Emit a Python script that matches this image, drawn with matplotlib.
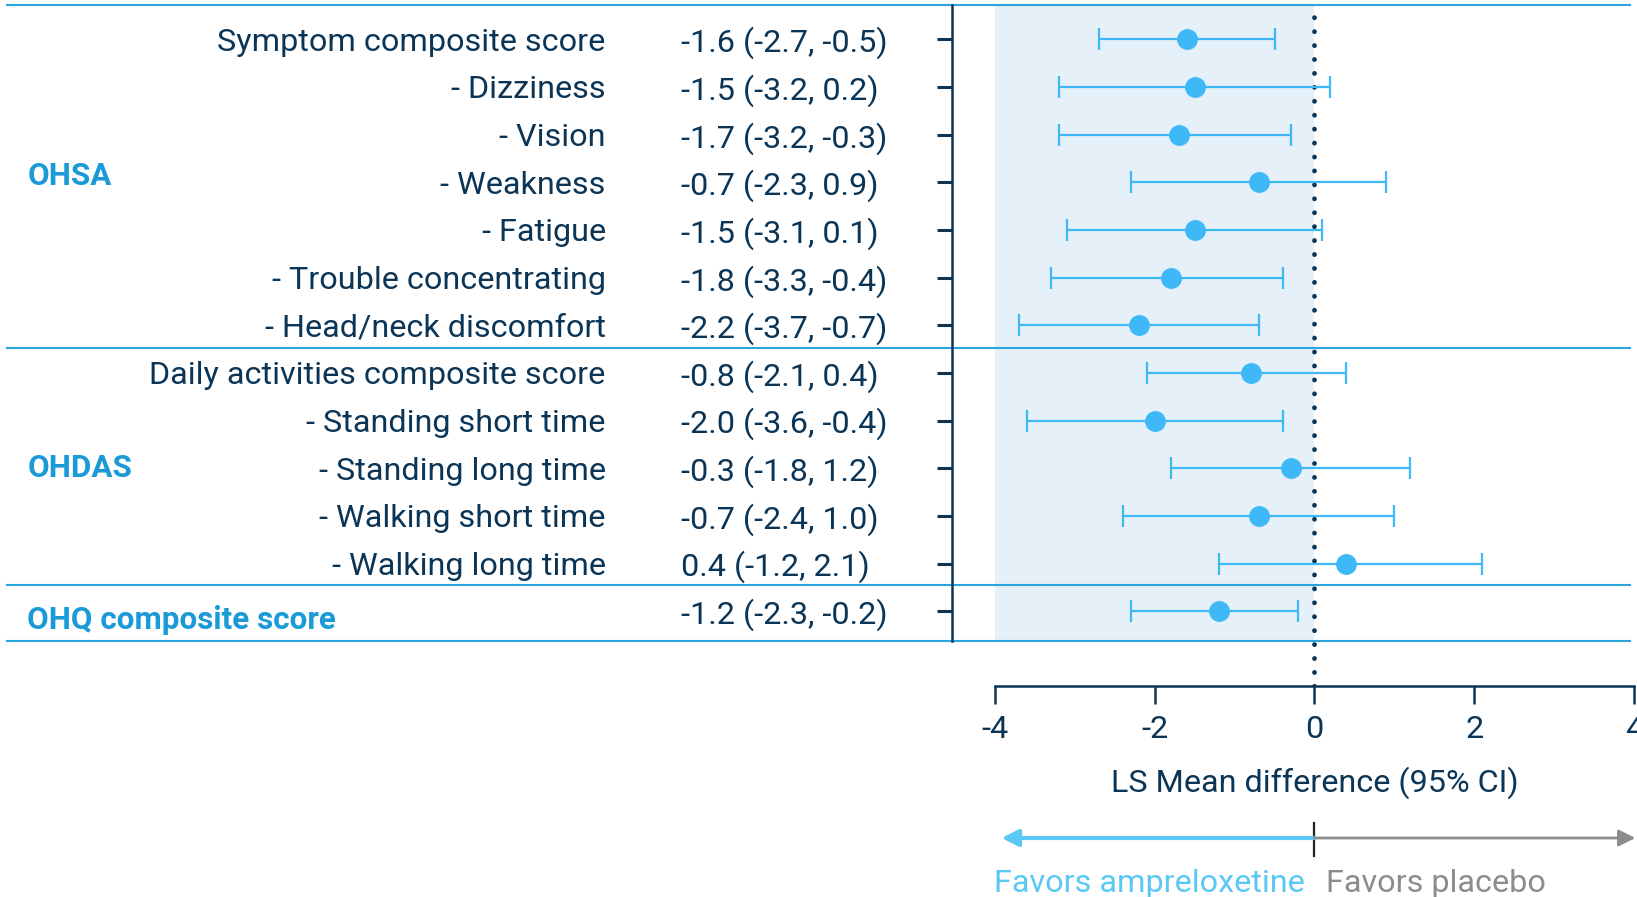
import matplotlib.pyplot as plt
from matplotlib.transforms import blended_transform_factory

plt.rcParams['font.family'] = ['Roboto', 'DejaVu Sans']

labels = ["Symptom composite score", "- Dizziness", "- Vision", "- Weakness", "- Fatigue",
          "- Trouble concentrating", "- Head/neck discomfort",
          "Daily activities composite score", "- Standing short time", "- Standing long time",
          "- Walking short time", "- Walking long time", ""]
means = [-1.6, -1.5, -1.7, -0.7, -1.5, -1.8, -2.2, -0.8, -2.0, -0.3, -0.7, 0.4, -1.2]
lower = [-2.7, -3.2, -3.2, -2.3, -3.1, -3.3, -3.7, -2.1, -3.6, -1.8, -2.4, -1.2, -2.3]
upper = [-0.5, 0.2, -0.3, 0.9, 0.1, -0.4, -0.7, 0.4, -0.4, 1.2, 1.0, 2.1, -0.2]
groups = ["OHSA", "OHDAS", "OHQ composite score"]
group_rows = [2.8, 8.93, 12.13]
separators = [-0.72, 6.47, 11.45, 12.63]
xticks = [-4, -2, 0, 2, 4]

navy = '#0b3556'
marker_blue = '#3fb8f7'
line_blue = '#2aa4dc'
group_blue = '#1a9ad6'
shade = '#e5f0f9'
fs = 23.3

fig = plt.figure(figsize=(16.37, 8.97), dpi=100)
ax = fig.add_axes([952 / 1637, 1 - 686 / 897, 1 - 952 / 1637, (686 - 5) / 897])
ax.set_xlim(-4.54, 4.04)
ax.set_ylim(13.57, -0.72)

rows = list(range(len(means)))
ax.fill_between([-4, 0], separators[0], separators[-1], color=shade, lw=0, zorder=0)
ax.axvline(0, color=navy, lw=3.4, linestyle=(0, (0.05, 2.9)), dash_capstyle='round', zorder=3)

err = [[m - l for m, l in zip(means, lower)], [u - m for m, u in zip(means, upper)]]
ax.errorbar(means, rows, xerr=err, fmt='o', color=marker_blue, ms=14, elinewidth=1.6,
            capsize=8, capthick=1.6, zorder=4)

for s in ['top', 'right']:
    ax.spines[s].set_visible(False)
ax.spines['left'].set_color(navy)
ax.spines['left'].set_linewidth(1.8)
ax.spines['left'].set_bounds(separators[0], separators[-1])
ax.spines['bottom'].set_color(navy)
ax.spines['bottom'].set_linewidth(1.8)
ax.spines['bottom'].set_bounds(-4, 4)

ax.set_yticks(rows)
ax.set_yticklabels([])
ax.tick_params(axis='y', direction='out', length=11, width=2.2, color=navy)
ax.set_xticks(xticks)
ax.set_xticklabels([str(t) for t in xticks])
ax.tick_params(axis='x', direction='out', length=13, width=1.8, color=navy,
               labelsize=fs, labelcolor=navy, pad=8)
ax.set_xlabel("LS Mean difference (95% CI)", fontsize=fs, color=navy)
ax.xaxis.label.set_va('center_baseline')
ax.xaxis.set_label_coords(4.54 / (4.04 + 4.54), 1 - (746 - 5) / (657 - 5),
                          transform=ax.transAxes)

tr = blended_transform_factory(fig.transFigure, ax.transData)
for i, (lab, m, l, u) in enumerate(zip(labels, means, lower, upper)):
    ax.text(0.370, i, lab, transform=tr, ha='right', va='center_baseline', fontsize=fs,
            color=navy)
    ax.text(0.416, i, f"{m:.1f} ({l:.1f}, {u:.1f})", transform=tr, ha='left',
            va='center_baseline', fontsize=fs, color=navy)

for g, r in zip(groups, group_rows):
    ax.text(0.0166, r, g, transform=tr, ha='left', va='center_baseline', fontsize=22.6,
            fontweight='bold', color=group_blue)

for s in separators:
    ax.plot([0.004, 0.996], [s, s], transform=tr, color=line_blue, lw=1.5, clip_on=False)

# favors arrows
tr2 = blended_transform_factory(ax.transData, fig.transFigure)
ya = 1 - 838 / 897
ax.annotate("", xy=(-3.92, ya), xytext=(0, ya), xycoords=tr2, textcoords=tr2,
            arrowprops=dict(arrowstyle='-|>', color='#5ac8f5', lw=3, mutation_scale=25,
                            shrinkA=0, shrinkB=0))
ax.annotate("", xy=(4.02, ya), xytext=(0, ya), xycoords=tr2, textcoords=tr2,
            arrowprops=dict(arrowstyle='-|>', color='#8c8c8c', lw=2, mutation_scale=25,
                            shrinkA=0, shrinkB=0))
ax.plot([0, 0], [1 - 823 / 897, 1 - 856 / 897], transform=tr2, color='#222222', lw=1.6,
        clip_on=False)
ax.text(-0.12, 1 - 880 / 897, "Favors ampreloxetine", transform=tr2, ha='right',
        va='center_baseline', fontsize=fs, color='#5ac8f5')
ax.text(0.14, 1 - 880 / 897, "Favors placebo", transform=tr2, ha='left',
        va='center_baseline', fontsize=fs, color='#8c8c8c')

fig.savefig("out.png", dpi=100)
